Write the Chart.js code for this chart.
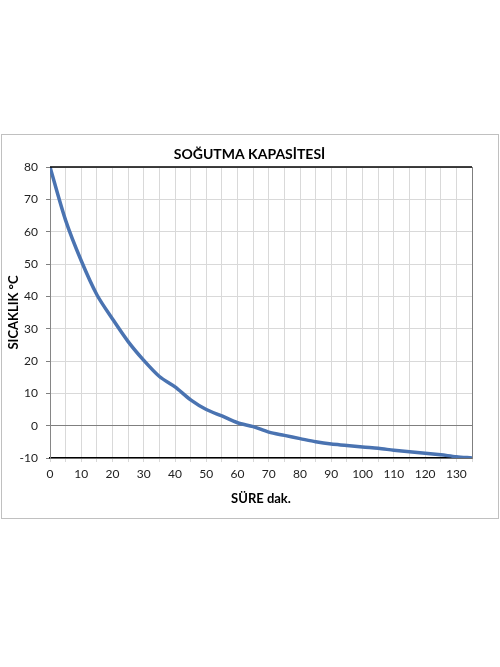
<!DOCTYPE html>
<html>
<head>
<meta charset="utf-8">
<script src="https://cdn.jsdelivr.net/npm/chart.js@4"></script>
<style>
  html, body { margin: 0; padding: 0; background: #fff; }
  #frame {
    position: absolute; left: 1px; top: 134px;
    width: 496px; height: 383px;
    border: 1px solid #c0c0c0;
  }
  #wrap { position: absolute; left: 0; top: 0; width: 500px; height: 667px; }
</style>
</head>
<body>
<div id="frame"></div>
<div id="wrap"><canvas id="coolingChart"></canvas></div>
<script>
// time in minutes, temperature in °C
const minutes = [0, 5, 10, 15, 20, 25, 30, 35, 40, 45, 50, 55, 60, 65, 70,
                 75, 80, 85, 90, 95, 100, 105, 110, 115, 120, 125, 130, 135];
const temps = [80, 63.5, 51, 40.5, 33, 26, 20.2, 15.2, 12, 8, 5, 3, 0.9, -0.3, -2,
               -3, -4, -5, -5.7, -6.1, -6.6, -7, -7.6, -8.1, -8.5, -9, -9.6, -10];
const yTicks = { min: -10, max: 80, step: 10 };
const xTicks = { min: 0, max: 135, step: 5, labelEvery: 10 };

const FONT = 'Lato, "Noto Sans", sans-serif';

// top border of the plot area
const plotTop = {
    id: 'plotTop',
    afterDraw(chart) {
        const { ctx, chartArea } = chart;
        ctx.save();
        ctx.strokeStyle = '#000';
        ctx.lineWidth = 1.5;
        ctx.beginPath();
        ctx.moveTo(chartArea.left, chartArea.top);
        ctx.lineTo(chartArea.right, chartArea.top);
        ctx.stroke();
        ctx.restore();
    }
};

const ctx = document.getElementById('coolingChart').getContext('2d');

new Chart(ctx, {
    type: 'line',
    data: {
        datasets: [{
            label: 'SICAKLIK',
            data: minutes.map((m, i) => ({ x: m, y: temps[i] })),
            borderColor: '#4a73b1',
            borderWidth: 3.5,
            pointRadius: 0,
            fill: false,
            tension: 0.3,
        }]
    },
    options: {
        responsive: true,
        maintainAspectRatio: false,
        animation: false,
        layout: { padding: { left: 1, right: 2, top: 134, bottom: 148 } },
        plugins: {
            legend: { display: false },
            tooltip: { enabled: false },
            title: {
                display: true,
                text: 'SOĞUTMA KAPASİTESİ',
                color: '#000',
                font: { family: FONT, size: 14, weight: 'bold', lineHeight: 1.2 },
                padding: { top: 12, bottom: 4.2 }
            }
        },
        scales: {
            x: {
                type: 'linear',
                min: xTicks.min,
                max: xTicks.max,
                afterFit: (s) => { s.height = 61; },
                grid: { color: '#d9d9d9', tickColor: '#d9d9d9', tickLength: 4 },
                border: { color: '#000', width: 1.5 },
                ticks: {
                    stepSize: xTicks.step,
                    autoSkip: false,
                    maxRotation: 0,
                    padding: 5,
                    color: '#222',
                    font: { family: FONT, size: 12 },
                    callback: (v) => (v % xTicks.labelEvery === 0 ? v : '')
                },
                title: {
                    display: true,
                    text: 'SÜRE dak.',
                    color: '#000',
                    font: { family: FONT, size: 13, weight: 'bold', lineHeight: 1.2 },
                    padding: { top: 0, bottom: 12 }
                }
            },
            y: {
                min: yTicks.min,
                max: yTicks.max,
                afterFit: (s) => { s.width = 49; },
                grid: {
                    color: (c) => (c.tick && c.tick.value === 0 ? '#7f7f7f' : '#d9d9d9'),
                    tickColor: '#7f7f7f',
                    tickLength: 4
                },
                border: { color: '#868686', width: 1 },
                ticks: {
                    stepSize: yTicks.step,
                    padding: 8,
                    color: '#222',
                    font: { family: FONT, size: 12 }
                },
                title: {
                    display: true,
                    text: 'SICAKLIK °C',
                    color: '#000',
                    font: { family: FONT, size: 13, weight: 'bold', lineHeight: 1.2 },
                    padding: { top: 5, bottom: 0 }
                }
            },
            y2: {
                position: 'right',
                min: yTicks.min,
                max: yTicks.max,
                afterFit: (s) => { s.width = 26; },
                grid: { display: false },
                border: { color: '#7f7f7f', width: 1 },
                ticks: { display: false }
            }
        }
    },
    plugins: [plotTop]
});
</script>
</body>
</html>
